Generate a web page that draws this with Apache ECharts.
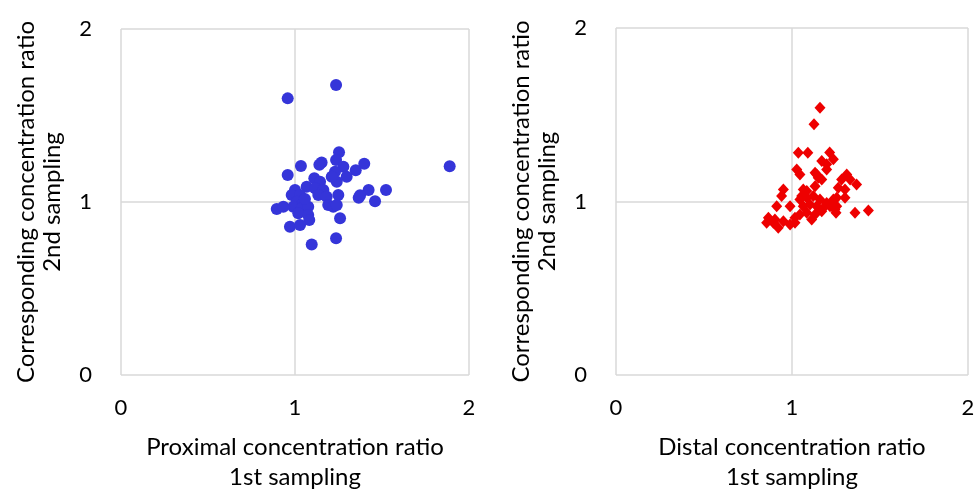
<!DOCTYPE html>
<html>
<head>
<meta charset="utf-8">
<script src="https://cdn.jsdelivr.net/npm/echarts@6/dist/echarts.min.js"></script>
<style>
  html, body { margin: 0; padding: 0; background: #fff; }
  #chart { width: 976px; height: 492px; }
</style>
</head>
<body>
<div id="chart"></div>
<script>
// proximal (left panel)
var proxX = [1.236, 0.958, 1.889, 1.523, 1.423, 1.460, 1.398, 1.349, 1.366, 1.374,
  1.259, 1.236, 1.096, 1.253, 1.153, 1.034, 0.958, 1.236, 1.278, 1.230,
  1.297, 1.240, 1.211, 1.111, 1.144, 1.067, 1.115, 1.163, 1.134, 1.182,
  1.249, 1.191, 1.220, 1.240, 1.000, 0.981, 1.029, 1.010, 1.048, 0.990,
  1.038, 1.076, 1.019, 1.076, 1.082, 1.057, 0.895, 0.933, 0.971, 1.029, 1.140]
var proxY = [1.676, 1.599, 1.206, 1.069, 1.069, 1.004, 1.221, 1.183, 1.025, 1.039,
  0.906, 0.790, 0.755, 1.287, 1.229, 1.208, 1.156, 1.243, 1.204, 1.175,
  1.146, 1.117, 1.146, 1.137, 1.117, 1.088, 1.079, 1.069, 1.040, 1.031,
  1.040, 0.983, 0.973, 0.983, 1.069, 1.040, 1.040, 1.002, 1.002, 0.973,
  0.963, 0.973, 0.935, 0.925, 0.896, 1.017, 0.960, 0.973, 0.857, 0.867, 1.215]

// distal (right panel)
var distX = [1.159, 1.125, 1.036, 1.090, 1.214, 1.169, 1.197, 1.235, 1.027, 1.045,
  1.140, 1.169, 1.131, 1.311, 1.330, 1.282, 1.263, 1.301, 1.367, 0.951,
  0.941, 1.064, 1.055, 1.084, 1.235, 1.301, 1.254, 1.254, 0.913, 0.989,
  1.358, 1.434, 1.250, 0.866, 0.856, 0.894, 0.922, 0.951, 0.989, 1.017,
  1.112, 1.045, 1.084, 1.121, 1.159, 1.197, 1.064, 1.102, 1.140, 1.178,
  1.216, 1.084, 1.131, 1.169, 1.045, 1.244, 0.903, 1.017, 1.149, 1.131, 1.197]
var distY = [1.541, 1.445, 1.281, 1.281, 1.283, 1.233, 1.214, 1.243, 1.185, 1.156,
  1.156, 1.127, 1.088, 1.156, 1.127, 1.127, 1.079, 1.069, 1.098, 1.069,
  1.031, 1.069, 1.031, 1.060, 1.012, 1.021, 0.973, 1.021, 0.973, 0.973,
  0.935, 0.948, 0.935, 0.906, 0.877, 0.877, 0.848, 0.886, 0.867, 0.877,
  0.896, 1.012, 1.021, 1.031, 1.012, 0.992, 0.973, 0.983, 0.973, 0.963,
  0.973, 0.935, 0.925, 0.944, 0.925, 0.954, 0.896, 0.906, 1.137, 1.165, 1.185]

var ticks = [0, 1, 2]
var xNames = ['Proximal concentration ratio\n1st sampling', 'Distal concentration ratio\n1st sampling']
var yName = 'Corresponding concentration ratio\n2nd sampling'

function pairs(xs, ys) {
  return xs.map(function (x, i) { return [x, ys[i]] })
}

var font = 'Lato'
var gridLine = { show: true, lineStyle: { color: '#d9d9d9', width: 1.5 } }

function xAxis(idx) {
  return {
    gridIndex: idx, type: 'value', min: ticks[0], max: ticks[2], interval: 1,
    axisLine: { show: false }, axisTick: { show: false }, splitLine: gridLine,
    axisLabel: { fontSize: 22, color: '#000', margin: 22, fontFamily: font },
    name: xNames[idx], nameLocation: 'middle', nameGap: 57,
    nameMoveOverlap: false,
    nameTextStyle: { fontSize: 24, color: '#000', lineHeight: 30, fontFamily: font }
  }
}

function yAxis(idx) {
  return {
    gridIndex: idx, type: 'value', min: ticks[0], max: ticks[2], interval: 1,
    axisLine: { show: false }, axisTick: { show: false }, splitLine: gridLine,
    axisLabel: { fontSize: 22, color: '#000', margin: 29, fontFamily: font },
    name: yName, nameLocation: 'middle', nameGap: 56,
    nameMoveOverlap: false,
    nameTextStyle: { fontSize: 24, color: '#000', lineHeight: 26, fontFamily: font }
  }
}

var chart = echarts.init(document.getElementById('chart'))
chart.setOption({
  backgroundColor: '#fff',
  animation: false,
  grid: [
    { left: 121, top: 29, width: 348, height: 346, outerBoundsMode: 'none' },
    { left: 616, top: 28, width: 352, height: 347, outerBoundsMode: 'none' }
  ],
  xAxis: [xAxis(0), xAxis(1)],
  yAxis: [yAxis(0), yAxis(1)],
  series: [
    {
      type: 'scatter', xAxisIndex: 0, yAxisIndex: 0,
      symbol: 'circle', symbolSize: 12,
      itemStyle: { color: '#3535d9', opacity: 1 },
      data: pairs(proxX, proxY)
    },
    {
      type: 'scatter', xAxisIndex: 1, yAxisIndex: 1,
      symbol: 'diamond', symbolSize: [11, 12],
      itemStyle: { color: '#ee0000', opacity: 1 },
      data: pairs(distX, distY)
    }
  ]
})
</script>
</body>
</html>
